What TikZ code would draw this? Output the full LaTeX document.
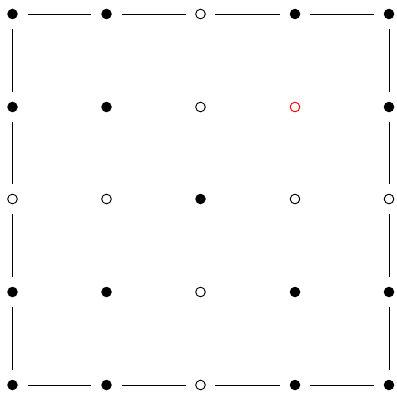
\documentclass[tikz,border=0pt]{standalone}
\begin{document}
\begin{tikzpicture}[x=1pt,y=1pt,
  full/.style={circle,fill=black,inner sep=0pt,minimum size=10.5pt,outer sep=10pt},
  hollow/.style={circle,draw=black,fill=white,line width=0.9pt,inner sep=0pt,minimum size=9.6pt,outer sep=10pt},
  redhollow/.style={hollow,draw=red},
  edge/.style={draw=black,line width=0.8pt}]
\useasboundingbox (0,0) rectangle (397,392);
\foreach \i/\x in {0/12.5,1/106.5,2/200.5,3/295,4/389}{
  \foreach \j/\y in {0/378,1/285,2/193,3/100,4/7}{
    \coordinate (p\i\j) at (\x,\y);
  }
}
% row 0
\node[full] (n00) at (p00) {};
\node[full] (n10) at (p10) {};
\node[hollow] (n20) at (p20) {};
\node[full] (n30) at (p30) {};
\node[full] (n40) at (p40) {};
% row 1
\node[full] (n01) at (p01) {};
\node[full] (n11) at (p11) {};
\node[hollow] (n21) at (p21) {};
\node[redhollow] (n31) at (p31) {};
\node[full] (n41) at (p41) {};
% row 2
\node[hollow] (n02) at (p02) {};
\node[hollow] (n12) at (p12) {};
\node[full] (n22) at (p22) {};
\node[hollow] (n32) at (p32) {};
\node[hollow] (n42) at (p42) {};
% row 3
\node[full] (n03) at (p03) {};
\node[full] (n13) at (p13) {};
\node[hollow] (n23) at (p23) {};
\node[full] (n33) at (p33) {};
\node[full] (n43) at (p43) {};
% row 4
\node[full] (n04) at (p04) {};
\node[full] (n14) at (p14) {};
\node[hollow] (n24) at (p24) {};
\node[full] (n34) at (p34) {};
\node[full] (n44) at (p44) {};
% edges
\foreach \a/\b in {00/10,10/20,20/30,30/40,04/14,14/24,24/34,34/44,
                   00/01,01/02,02/03,03/04,40/41,41/42,42/43,43/44}{
  \draw[edge] (n\a) -- (n\b);
}
\end{tikzpicture}
\end{document}
